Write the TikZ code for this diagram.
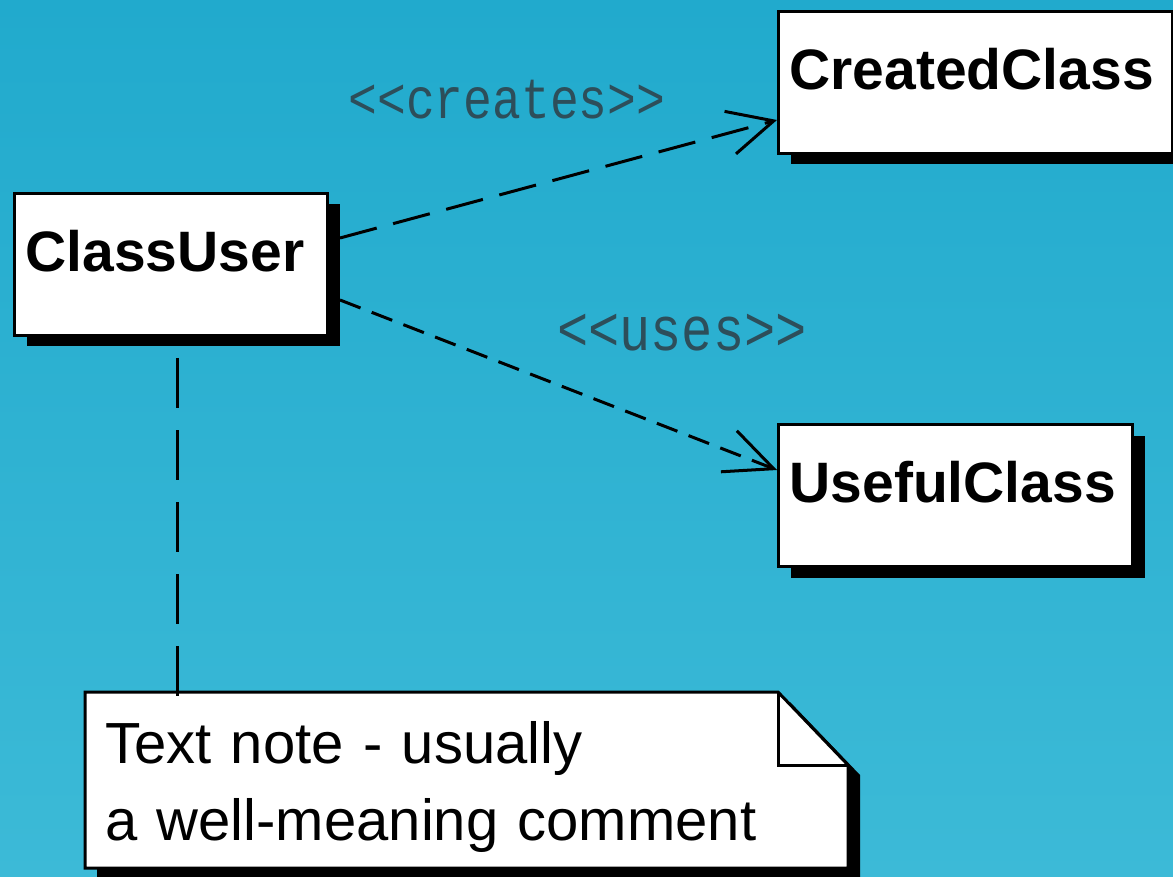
\documentclass[tikz,border=0pt]{standalone}
\usepackage{fontspec}
\usepackage{graphicx}
\setmainfont{Liberation Sans}
\newfontfamily\monofnt{Liberation Mono}
\usetikzlibrary{arrows.meta,calc,shadows}
\definecolor{bgtop}{RGB}{33,170,205}
\definecolor{bgbot}{RGB}{60,186,215}
\definecolor{lblcol}{RGB}{45,78,90}
\begin{document}
\begin{tikzpicture}[x=1pt,y=-1pt,
  cls/.style={draw=black, line width=3pt, fill=white, anchor=north west,
    inner xsep=11pt, inner ysep=0pt, align=left, text height=78pt, text depth=64pt,
    font=\fontsize{57}{57}\selectfont\bfseries,
    general shadow={shadow xshift=12pt, shadow yshift=-11pt, fill=black}},
  notebox/.style={anchor=north west, inner xsep=20pt, inner ysep=0pt, align=left,
    text width=723pt, text height=71pt, text depth=105pt,
    font=\fontsize{58}{77}\selectfont},
  noteshape/.style={draw=black, line width=3pt, fill=white},
  stereo/.style={text=lblcol, inner sep=0pt},
  createline/.style={line width=3pt, dash pattern=on 38pt off 17pt,
    -{Straight Barb[length=45pt,width=44pt,line width=3pt]}},
  useline/.style={line width=3pt, dash pattern=on 22pt off 12pt,
    -{Straight Barb[length=48pt,width=44pt,line width=3pt]}},
  notelink/.style={line width=3pt, dash pattern=on 50pt off 22pt, dash phase=62pt}
]
\useasboundingbox (0,0) rectangle (1173,877);
\clip (0,0) rectangle (1173,877);
\shade[top color=bgtop, bottom color=bgbot] (0,0) rectangle (1173,877);

% classes
\node[cls, text width=291pt] (user) at (13,192) {ClassUser};
\node[cls, text width=372pt] (created) at (777,10) {CreatedClass};
\node[cls, text width=332pt] (useful) at (777,423) {UsefulClass};

% note
\coordinate (nNW) at (85,692);
\coordinate (nNE) at (848,692);
\coordinate (nSE) at (848,868);
\coordinate (nSW) at (85,868);
\fill[black] ($(nNW)+(12,10)$) -- ($(nNE)+(-58,10)$) -- ($(nNE)+(12,83)$) -- ($(nSE)+(12,10)$) -- ($(nSW)+(12,10)$) -- cycle;
\draw[noteshape] (nNW) -- ($(nNE)+(-70,0)$) -- ($(nNE)+(0,73)$) -- (nSE) -- (nSW) -- cycle;
\draw[line width=3pt] ($(nNE)+(-70,0)$) |- ($(nNE)+(0,73)$);
\node[notebox] (note) at (nNW) {Text note - usually\\a well-meaning comment};

% connectors
\draw[notelink] ([xshift=6pt,yshift=-11pt]user.south) -- ([xshift=6pt,yshift=-11pt]user.south |- note.north);
\draw[createline] ([xshift=11pt,yshift=-46pt]user.north east) -- ([yshift=-110pt]created.north west);
\draw[useline] ([xshift=11pt,yshift=-108pt]user.north east) -- ([yshift=-47pt]useful.north west);

% stereotypes
\node[stereo, font=\monofnt\fontsize{48}{48}\selectfont] (lcreates) at (507,100) {\scalebox{1}[1.2]{<{}<creates>{}>}};
\node[stereo, font=\monofnt\fontsize{52}{52}\selectfont] (luses) at (682,333) {\scalebox{1}[1.2]{<{}<uses>{}>}};
\end{tikzpicture}
\end{document}
